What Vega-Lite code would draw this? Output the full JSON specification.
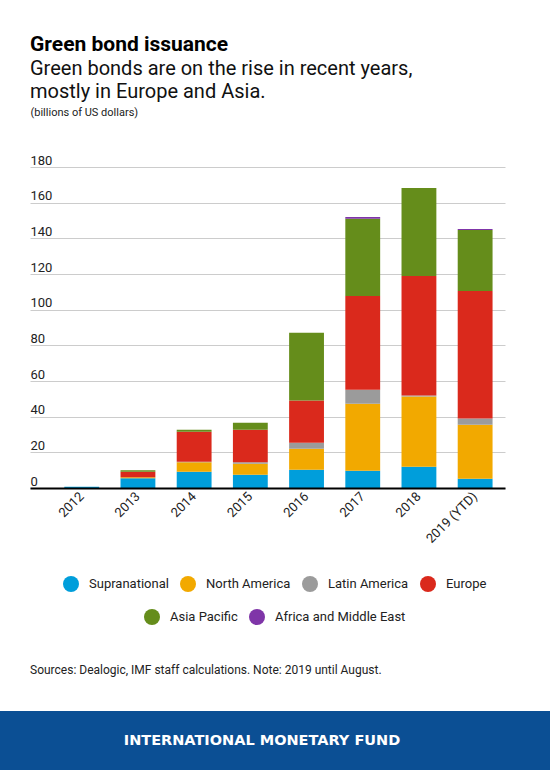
{
  "$schema": "https://vega.github.io/schema/vega-lite/v6.json",
  "background": "white",
  "autosize": {"type": "pad"},
  "padding": {"left": 0, "right": 0, "top": 34, "bottom": 0},
  "title": {
    "text": "Green bond issuance",
    "subtitle": ["Green bonds are on the rise in recent years,", "mostly in Europe and Asia."],
    "anchor": "start",
    "dx": 30,
    "font": "Roboto",
    "fontSize": 21,
    "fontWeight": "bold",
    "color": "#000000",
    "subtitleFont": "Roboto",
    "subtitleFontSize": 20,
    "subtitleColor": "#111111",
    "subtitlePadding": 4,
    "subtitleLineHeight": 23,
    "offset": 4
  },
  "config": {
    "font": "Roboto",
    "view": {"stroke": null},
    "axis": {"labelFont": "Roboto", "titleFont": "Roboto", "labelColor": "#222222", "titleColor": "#222222"},
    "legend": {
      "title": null,
      "orient": "bottom",
      "direction": "horizontal",
      "symbolType": "circle",
      "symbolSize": 256,
      "symbolStrokeWidth": 0,
      "labelFont": "Roboto",
      "labelFontSize": 13,
      "labelColor": "#222222",
      "labelOffset": 10,
      "columnPadding": 11,
      "offset": 30,
      "layout": {"bottom": {"anchor": "middle", "direction": "vertical", "center": true, "margin": 17}}
    }
  },
  "spacing": 39,
  "vconcat": [
    {
      "width": 550,
      "height": 321,
      "data": {
        "values": [
          {"year": "2012", "region": "Supranational", "value": 0.7},
          {"year": "2013", "region": "Supranational", "value": 5.4},
          {"year": "2013", "region": "North America", "value": 0.6},
          {"year": "2013", "region": "Europe", "value": 3.1},
          {"year": "2013", "region": "Asia Pacific", "value": 0.8},
          {"year": "2014", "region": "Supranational", "value": 9.1},
          {"year": "2014", "region": "North America", "value": 5.3},
          {"year": "2014", "region": "Latin America", "value": 0.3},
          {"year": "2014", "region": "Europe", "value": 16.9},
          {"year": "2014", "region": "Asia Pacific", "value": 1.1},
          {"year": "2015", "region": "Supranational", "value": 7.5},
          {"year": "2015", "region": "North America", "value": 6.1},
          {"year": "2015", "region": "Latin America", "value": 0.8},
          {"year": "2015", "region": "Europe", "value": 18.3},
          {"year": "2015", "region": "Asia Pacific", "value": 3.9},
          {"year": "2016", "region": "Supranational", "value": 10.3},
          {"year": "2016", "region": "North America", "value": 11.7},
          {"year": "2016", "region": "Latin America", "value": 3.4},
          {"year": "2016", "region": "Europe", "value": 23.7},
          {"year": "2016", "region": "Asia Pacific", "value": 37.9},
          {"year": "2017", "region": "Supranational", "value": 9.7},
          {"year": "2017", "region": "North America", "value": 37.5},
          {"year": "2017", "region": "Latin America", "value": 7.9},
          {"year": "2017", "region": "Europe", "value": 52.6},
          {"year": "2017", "region": "Asia Pacific", "value": 43.3},
          {"year": "2017", "region": "Africa and Middle East", "value": 1.0},
          {"year": "2018", "region": "Supranational", "value": 11.9},
          {"year": "2018", "region": "North America", "value": 39.4},
          {"year": "2018", "region": "Latin America", "value": 0.6},
          {"year": "2018", "region": "Europe", "value": 67.0},
          {"year": "2018", "region": "Asia Pacific", "value": 49.3},
          {"year": "2019 (YTD)", "region": "Supranational", "value": 5.2},
          {"year": "2019 (YTD)", "region": "North America", "value": 30.3},
          {"year": "2019 (YTD)", "region": "Latin America", "value": 3.5},
          {"year": "2019 (YTD)", "region": "Europe", "value": 71.5},
          {"year": "2019 (YTD)", "region": "Asia Pacific", "value": 34.2},
          {"year": "2019 (YTD)", "region": "Africa and Middle East", "value": 0.6}
        ]
      },
      "transform": [{"stack": "value", "groupby": ["year"], "as": ["y0", "y1"]}],
      "encoding": {
        "x": {
          "field": "year",
          "type": "nominal",
          "sort": null,
          "scale": {"range": [30, 505], "paddingInner": 0.38, "paddingOuter": 0.416, "align": 0.734},
          "axis": {
            "title": null,
            "labelAngle": -45,
            "labelAlign": "right",
            "labelBaseline": "middle",
            "labelPadding": 6,
            "labelFontSize": 13,
            "ticks": false,
            "grid": false,
            "domainColor": "#000000",
            "domainWidth": 2,
            "zindex": 1
          }
        },
        "y": {
          "field": "y0",
          "type": "quantitative",
          "scale": {"domain": [0, 180], "nice": false},
          "axis": {
            "title": "(billions of US dollars)",
            "values": [0, 20, 40, 60, 80, 100, 120, 140, 160, 180],
            "offset": -30,
            "domain": false,
            "ticks": false,
            "labelAlign": "left",
            "labelBaseline": "alphabetic",
            "labelPadding": 0,
            "labelOffset": -3,
            "labelFontSize": 13,
            "gridColor": "#cccccc",
            "gridWidth": 1,
            "titleAngle": 0,
            "titleAlign": "left",
            "titleBaseline": "middle",
            "titleX": 0,
            "titleY": -55,
            "titleFontSize": 11,
            "titleFontWeight": "normal"
          }
        },
        "y2": {"field": "y1"}
      },
      "layer": [
        {
          "transform": [{"filter": {"field": "region", "oneOf": ["Supranational", "North America", "Latin America", "Europe"]}}],
          "mark": {"type": "bar"},
          "encoding": {
            "color": {
              "field": "region",
              "type": "nominal",
              "scale": {
                "domain": ["Supranational", "North America", "Latin America", "Europe"],
                "range": ["#009edb", "#f2a900", "#9b9b9b", "#da291c"]
              }
            }
          }
        },
        {
          "transform": [{"filter": {"field": "region", "oneOf": ["Asia Pacific", "Africa and Middle East"]}}],
          "mark": {"type": "bar"},
          "encoding": {
            "color": {
              "field": "region",
              "type": "nominal",
              "scale": {
                "domain": ["Asia Pacific", "Africa and Middle East"],
                "range": ["#658d1b", "#7f35a8"]
              }
            }
          }
        }
      ],
      "resolve": {"scale": {"color": "independent"}}
    },
    {
      "width": 550,
      "height": 60,
      "view": {"fill": "#0b4f94", "stroke": null},
      "title": {
        "text": "Sources: Dealogic, IMF staff calculations. Note: 2019 until August.",
        "anchor": "start",
        "dx": 30,
        "font": "Roboto",
        "fontSize": 12,
        "fontWeight": "normal",
        "color": "#222222",
        "offset": 34
      },
      "data": {"values": [{"label": "INTERNATIONAL MONETARY FUND"}]},
      "mark": {"type": "text", "font": "DejaVu Sans", "fontSize": 14.5, "fontWeight": "bold", "color": "#ffffff", "align": "center", "baseline": "middle", "dx": -13},
      "encoding": {"text": {"field": "label", "type": "nominal"}}
    }
  ]
}
